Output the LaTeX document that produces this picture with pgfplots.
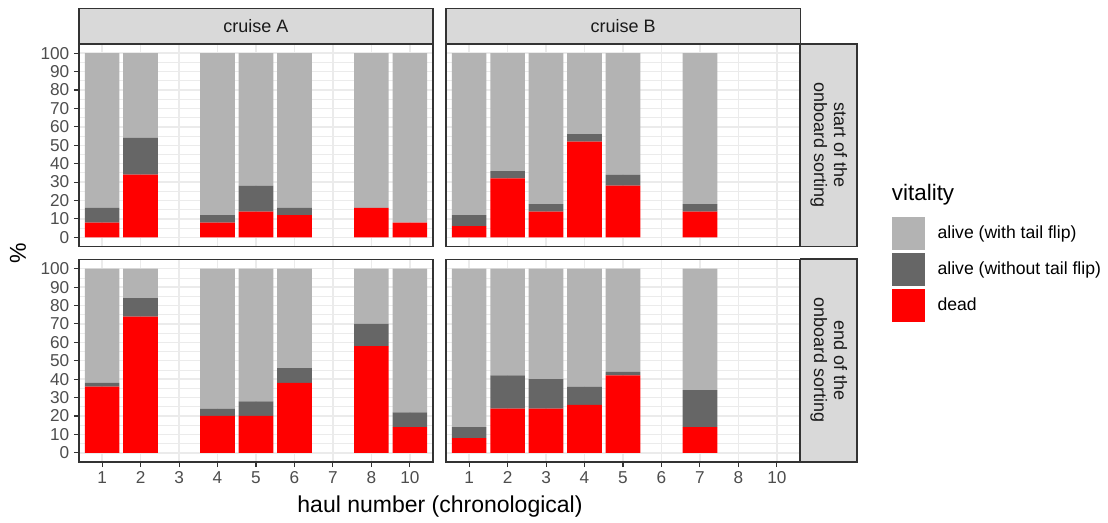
\documentclass[border=0pt]{standalone}
\usepackage{fontspec}
\setmainfont{Liberation Sans}
\usepackage{pgfplots}
\pgfplotsset{compat=1.18}
\definecolor{alivetf}{HTML}{B3B3B3}
\definecolor{alivent}{HTML}{666666}
\definecolor{deadc}{HTML}{FF0000}
\definecolor{grid92}{HTML}{EBEBEB}
\definecolor{grey20}{HTML}{333333}
\definecolor{grey30}{HTML}{4D4D4D}
\definecolor{grey10}{HTML}{1A1A1A}
\definecolor{stripc}{HTML}{D9D9D9}
\pgfplotsset{
  sq/.style={legend image code/.code={\fill[##1] (0pt,-12.2pt) rectangle (24.75pt,12.2pt);}},
  facet/.style={
    scale only axis, width=265.5pt, height=151.875pt,
    anchor=south west,
    xmin=0.4, xmax=9.6, ymin=-5, ymax=105,
    ybar stacked, bar width=0.9,
    xtick={1,...,9}, ytick={0,10,...,100}, minor ytick={5,15,...,95},
    xmajorgrids=true, ymajorgrids=true, yminorgrids=true,
    major grid style={grid92, line width=1.1pt},
    minor grid style={grid92, line width=0.55pt},
    axis line style={grey20, line width=1pt},
    xtick pos=bottom, ytick pos=left, tick align=outside, major tick length=3.75pt,
    minor tick length=0pt,
    tick style={grey20, line width=0.8pt},
    yminorticks=false,
    tick label style={font=\fontsize{12.9}{14}\selectfont, text=grey30},
    /pgf/number format/assume math mode=true,
    xticklabels={1,2,3,4,5,6,7,8,10},
  },
  noxt/.style={xtick pos=top, xmajorticks=false, xtick style={draw=none}, xticklabel={}},
  noyt/.style={ytick pos=right, ymajorticks=false, ytick style={draw=none}, yticklabel={}},
}
\begin{document}
\begin{tikzpicture}[x=0.75pt,y=0.75pt]
\useasboundingbox (0,0) rectangle (1108,522);
% top-left: cruise A, start
\begin{axis}[facet, noxt, at={(59.25pt,206.625pt)}]
\addplot[fill=deadc, draw=none] coordinates {(1,8) (2,34) (4,8) (5,14) (6,12) (8,16) (9,8)};
\addplot[fill=alivent, draw=none] coordinates {(1,8) (2,20) (4,4) (5,14) (6,4) (8,0) (9,0)};
\addplot[fill=alivetf, draw=none] coordinates {(1,84) (2,46) (4,88) (5,72) (6,84) (8,84) (9,92)};
\end{axis}
% top-right: cruise B, start
\begin{axis}[facet, noxt, noyt, at={(334.5pt,206.625pt)},
  reverse legend, legend cell align=left,
  legend style={draw=none, fill=none, at={(1.259,0.1457)}, anchor=north west,
    inner sep=0pt, row sep=2.6pt, column sep=9.5pt,
    font=\fontsize{13.2}{15}\selectfont, nodes={inner sep=0pt}}]
\addplot[fill=deadc, draw=none, sq] coordinates {(1,6) (2,32) (3,14) (4,52) (5,28) (7,14)};
\addplot[fill=alivent, draw=none, sq] coordinates {(1,6) (2,4) (3,4) (4,4) (5,6) (7,4)};
\addplot[fill=alivetf, draw=none, sq] coordinates {(1,88) (2,64) (3,82) (4,44) (5,66) (7,82)};
\legend{dead, alive (without tail flip), alive (with tail flip)}
\end{axis}
% bottom-left: cruise A, end
\begin{axis}[facet, at={(59.25pt,45pt)}]
\addplot[fill=deadc, draw=none] coordinates {(1,36) (2,74) (4,20) (5,20) (6,38) (8,58) (9,14)};
\addplot[fill=alivent, draw=none] coordinates {(1,2) (2,10) (4,4) (5,8) (6,8) (8,12) (9,8)};
\addplot[fill=alivetf, draw=none] coordinates {(1,62) (2,16) (4,76) (5,72) (6,54) (8,30) (9,78)};
\end{axis}
% bottom-right: cruise B, end
\begin{axis}[facet, noyt, at={(334.5pt,45pt)}]
\addplot[fill=deadc, draw=none] coordinates {(1,8) (2,24) (3,24) (4,26) (5,42) (7,14)};
\addplot[fill=alivent, draw=none] coordinates {(1,6) (2,18) (3,16) (4,10) (5,2) (7,20)};
\addplot[fill=alivetf, draw=none] coordinates {(1,86) (2,58) (3,60) (4,64) (5,56) (7,66)};
\end{axis}
% strips
\filldraw[fill=stripc, draw=grey20, line width=0.8pt] (79,478) rectangle (433,513.5);
\filldraw[fill=stripc, draw=grey20, line width=0.8pt] (446,478) rectangle (800.5,513.5);
\filldraw[fill=stripc, draw=grey20, line width=0.8pt] (800.5,275.5) rectangle (857,478);
\filldraw[fill=stripc, draw=grey20, line width=0.8pt] (800.5,60) rectangle (857,263);
\node[font=\fontsize{13.5}{15}\selectfont, text=grey10] at (256,496) {cruise A};
\node[font=\fontsize{13.5}{15}\selectfont, text=grey10] at (623.25,496) {cruise B};
\node[font=\fontsize{13.5}{15}\selectfont, text=grey10, rotate=-90, align=center] at (828.75,376.75) {start of the\\onboard sorting};
\node[font=\fontsize{13.5}{15}\selectfont, text=grey10, rotate=-90, align=center] at (828.75,161.5) {end of the\\onboard sorting};
% axis titles
\node[font=\fontsize{17.25}{19}\selectfont, rotate=90] at (18,269) {\%};
\node[font=\fontsize{17.25}{19}\selectfont] at (440,15) {haul number (chronological)};
\node[font=\fontsize{16.8}{19}\selectfont, anchor=west, inner sep=0pt] at (891.7,327) {vitality};
\end{tikzpicture}
\end{document}
